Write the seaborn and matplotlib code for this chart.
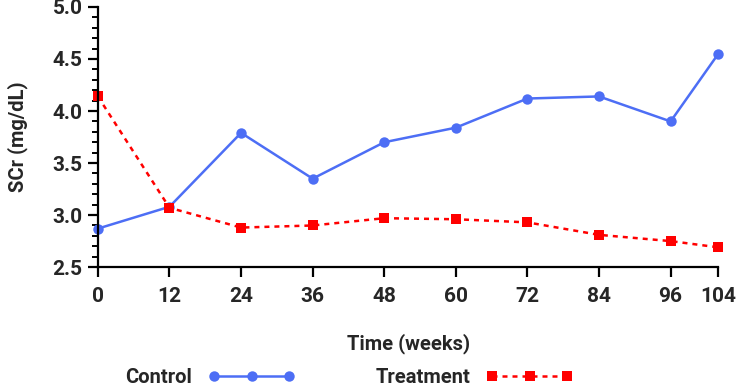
import numpy as np
import pandas as pd
import matplotlib
matplotlib.use("Agg")
import matplotlib.pyplot as plt
from matplotlib.ticker import MultipleLocator, FormatStrFormatter
import seaborn as sns

weeks = [0, 12, 24, 36, 48, 60, 72, 84, 96, 104]
control = [2.87, 3.08, 3.79, 3.35, 3.70, 3.84, 4.12, 4.14, 3.90, 4.55]
treatment = [4.14, 3.07, 2.88, 2.90, 2.97, 2.96, 2.93, 2.81, 2.75, 2.69]

colors = {"Control": "#4D6EF5", "Treatment": "#FF0000"}
markers = {"Control": "o", "Treatment": "s"}
dashes = {"Control": "", "Treatment": (2, 2)}

df = pd.DataFrame({
    "week": weeks * 2,
    "scr": control + treatment,
    "group": ["Control"] * len(weeks) + ["Treatment"] * len(weeks),
})

sns.set_theme(style="ticks")
plt.rcParams["font.family"] = ["Roboto", "DejaVu Sans"]
plt.rcParams["font.weight"] = "bold"

fig = plt.figure(figsize=(7.36, 3.86), dpi=100)
ax = fig.add_axes([0.133, 0.308, 0.843, 0.674])

sns.lineplot(
    data=df, x="week", y="scr", hue="group", style="group",
    palette=colors, markers=markers, dashes=dashes,
    markersize=7.5, markeredgewidth=0, linewidth=1.8, ax=ax,
)
for line in ax.lines:
    line.set_clip_on(False)

ax.set_xlim(0, 104)
ax.set_ylim(2.5, 5.0)
ax.set_xticks(weeks)
ax.yaxis.set_major_locator(MultipleLocator(0.5))
ax.yaxis.set_minor_locator(MultipleLocator(0.1))
ax.yaxis.set_major_formatter(FormatStrFormatter("%.1f"))
sns.despine(ax=ax)
for s in ["left", "bottom"]:
    ax.spines[s].set_linewidth(1.6)
    ax.spines[s].set_color("black")
ax.tick_params(axis="both", which="major", length=7, width=1.6, labelsize=15, color="black")
ax.tick_params(axis="x", which="major", pad=7)
ax.tick_params(axis="y", which="major", pad=4)
ax.tick_params(axis="y", which="minor", length=4, width=1.4, color="black")
for lbl in ax.get_xticklabels() + ax.get_yticklabels():
    lbl.set_fontweight("bold")

ax.set_xlabel("Time (weeks)", fontsize=14.5, fontweight="bold", labelpad=20)
ax.set_ylabel("SCr (mg/dL)", fontsize=14.5, fontweight="bold")
ax.yaxis.set_label_coords(-0.113, 0.5)

handles, labels = ax.get_legend_handles_labels()
ax.legend(
    handles, labels, loc="center", bbox_to_anchor=(0.405, -0.423),
    ncol=2, frameon=False, markerfirst=False, numpoints=3,
    handlelength=4.3, handletextpad=0.8, columnspacing=4.0,
    prop={"size": 14.5, "weight": "bold"},
)

fig.savefig("out.png", dpi=100)
